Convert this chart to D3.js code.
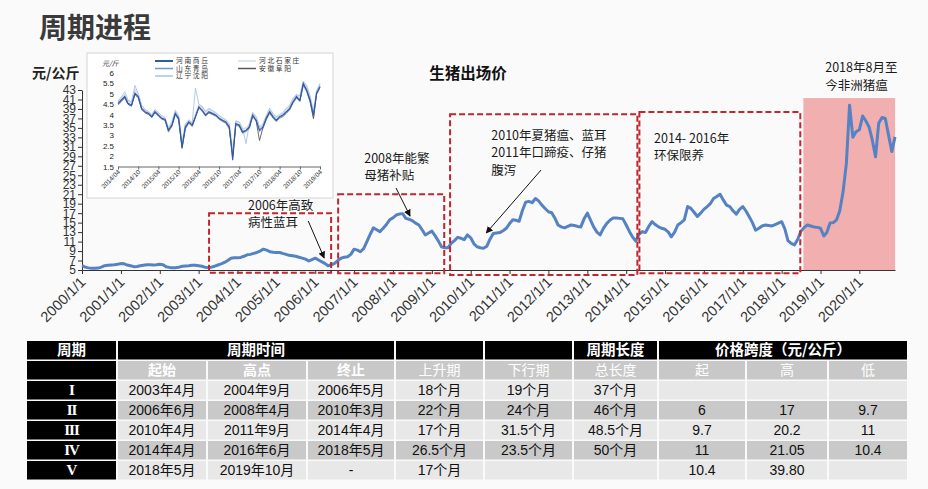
<!DOCTYPE html>
<html><head><meta charset="utf-8">
<script src="https://cdn.jsdelivr.net/npm/d3@7"></script>
<style>
html,body{margin:0;padding:0;background:#fafafa;}
svg{display:block;font-family:"Liberation Sans",Arial,"Noto Sans CJK SC",sans-serif;}
</style></head><body>
<svg id="c" width="928" height="489"></svg>
<script>
// ---------------- DATA ----------------
const pageTitle = "周期进程";
const chartTitle = "生猪出场价";
const yUnit = "元/公斤";
const years = d3.range(2000, 2021);
const xTickLabels = years.map(v => v + "/1/1");
const yTicks = d3.range(5, 44, 2);

// monthly hog price (元/公斤), 2000/01 .. 2020/12
const hogPrice = [
  5.9,5.6,5.45,5.35,5.35,5.4,5.6,5.9,6.0,6.05,6.1,6.2,
  6.35,6.3,6.05,5.9,5.7,5.75,5.9,6.0,6.1,6.1,6.05,6.1,
  6.2,6.1,5.7,5.55,5.5,5.5,5.6,5.8,5.85,5.9,6.0,6.0,
  5.9,5.8,5.6,5.5,5.6,5.8,6.05,6.3,6.6,7.0,7.5,7.6,
  7.6,7.65,7.9,8.2,8.3,8.5,8.7,9.0,9.4,9.2,8.85,8.75,
  8.7,8.7,8.5,8.3,8.1,8.0,7.9,7.7,7.5,7.3,6.9,7.2,
  7.5,7.1,6.75,6.4,5.9,6.1,6.4,7.0,7.5,7.7,7.8,8.3,
  9.4,9.2,8.85,9.5,11.0,12.5,13.9,13.5,13.1,13.8,14.6,15.6,
  16.0,16.6,16.8,16.9,15.9,15.7,15.4,14.9,14.5,13.5,12.4,12.8,
  13.2,12.2,11.2,9.9,9.7,9.7,10.6,11.2,11.9,11.7,11.4,12.4,
  11.8,10.5,9.9,9.7,9.6,10.0,11.5,12.7,12.8,12.9,13.3,13.8,
  14.8,15.6,15.5,15.3,17.5,19.3,19.5,19.2,20.1,19.6,18.7,18.0,
  17.3,17.1,16.0,14.5,14.1,13.9,14.2,14.5,14.4,14.2,14.1,15.8,
  17.0,15.5,14.1,13.0,12.4,13.8,14.8,15.5,16.0,16.0,15.9,15.8,
  14.5,13.1,12.0,11.1,12.5,13.1,12.9,14.2,15.2,14.6,14.1,13.8,
  13.6,13.0,12.0,13.0,14.5,15.0,15.6,18.4,18.0,17.2,16.3,17.0,
  17.8,18.4,19.0,20.1,20.5,21.0,19.8,18.7,18.4,17.5,16.8,17.8,
  18.4,17.4,16.3,15.0,13.4,13.8,14.3,14.5,14.4,14.3,14.6,14.9,
  15.2,13.6,11.2,10.6,10.3,11.5,13.2,14.0,14.5,14.3,14.1,14.0,
  13.8,12.2,12.9,14.9,15.0,15.6,17.5,21.5,27.5,39.8,33.0,34.2,
  34.6,37.5,36.5,35.2,32.5,28.9,36.0,37.2,37.0,33.5,30.0,33.1
];

// cycle boxes (decimal years, price top/bottom)
const boxStart = [2003.27, 2006.59, 2009.47, 2014.34];
const boxEnd   = [2006.41, 2009.32, 2014.29, 2018.48];
const boxTop   = [17.0, 21.0, 37.9, 38.35];
const boxBottom= [4.4, 4.3, 3.95, 4.3];
const feverStart = 2018.56, feverEnd = 2020.92, feverTop = 41.3;

// annotations
const annLines = [
  ["2006年高致","病性蓝耳"],
  ["2008年能繁","母猪补贴"],
  ["2010年夏猪瘟、蓝耳","2011年口蹄疫、仔猪","腹泻"],
  ["2014-  2016年","环保限养"],
  ["2018年8月至","今非洲猪瘟"]
];
const annX = [2004.27, 2007.26, 2010.53, 2014.72, 2019.12];
const annY = [17.77, 27.69, 32.55, 31.86, 46.76];
const arrowFromX = [2005.82, 2008.08, 2011.81];
const arrowFromY = [15.34, 22.31, 26.11];
const arrowToX   = [2006.23, 2008.44, 2010.40];
const arrowToY   = [7.53, 16.4, 12.81];

// inset: prices by city (元/斤), monthly 2014/04 .. 2019/04
const insetUnit = "元/斤";
const insetNames = ["河南商丘","河北石家庄","山东青岛","安徽阜阳","辽宁沈阳"];
const henan = [4.54,4.70,4.87,4.54,4.45,5.03,4.87,4.30,4.14,4.06,3.90,4.14,3.98,3.82,3.77,3.25,3.50,4.06,3.82,2.44,3.40,3.65,3.50,3.90,4.38,4.22,3.98,4.14,4.06,3.98,3.82,3.73,3.65,3.40,1.80,3.57,3.50,3.17,3.25,3.40,3.98,3.73,3.25,3.40,3.82,4.14,3.90,3.73,3.90,3.98,4.14,4.30,4.63,4.87,4.70,5.50,5.20,4.70,3.98,5.03,5.35];
const hebei = [4.60,4.80,4.95,4.65,4.55,5.20,4.95,4.40,4.20,4.10,3.95,4.20,4.05,3.90,3.80,3.35,3.60,4.15,3.90,2.70,3.50,3.70,3.60,4.00,4.45,4.35,4.10,4.25,4.15,4.05,3.90,3.80,3.70,3.50,2.20,3.65,3.60,3.30,3.35,3.50,4.05,3.85,3.35,3.50,3.90,4.25,4.00,3.85,3.95,4.05,4.25,4.40,4.75,4.95,4.85,5.55,5.35,4.85,4.10,5.10,5.45];
const shandong = [4.45,4.62,4.80,4.48,4.40,4.95,4.80,4.22,4.08,4.00,3.85,4.08,3.92,3.78,3.70,3.15,3.42,3.98,3.75,2.35,3.30,3.58,3.42,3.85,4.30,4.15,3.92,4.08,4.00,3.92,3.76,3.66,3.58,3.30,1.95,3.50,3.42,3.10,3.18,3.32,3.90,3.66,3.18,3.32,3.75,4.05,3.82,3.65,3.82,3.90,4.05,4.22,4.55,4.78,4.62,5.40,5.10,4.60,3.85,4.95,5.30];
const anhui = [4.50,4.65,4.82,4.50,4.42,4.98,4.82,4.26,4.10,4.02,3.88,4.10,3.95,3.80,3.74,3.22,3.46,4.02,3.78,2.40,3.36,3.62,3.46,3.88,4.34,4.18,3.95,4.10,4.02,3.95,3.80,3.70,3.62,3.36,2.00,3.54,3.46,3.14,3.22,3.36,3.95,3.70,2.75,3.36,3.78,4.10,3.86,3.70,3.86,3.95,4.10,4.26,4.60,4.82,4.66,5.45,5.15,4.66,3.80,5.00,5.32];
const liaoning = [4.65,4.85,5.10,4.70,4.60,5.40,5.00,4.45,4.25,4.15,4.00,4.25,4.10,3.95,3.85,3.30,3.65,4.20,3.95,2.60,3.55,3.75,3.60,5.27,4.50,4.40,4.15,4.30,4.20,4.10,3.95,3.85,3.75,3.55,2.10,3.70,3.65,3.35,2.60,3.55,4.10,3.90,3.40,3.55,3.95,4.30,4.05,3.90,4.00,4.10,4.30,4.45,4.80,4.95,4.90,5.60,5.40,4.90,4.15,5.15,5.50];
const insetYTicks = [1.5,2,2.5,3,3.5,4,4.5,5,5.5,6];
const insetXLabels = ["2014/04","2014/10","2015/04","2015/10","2016/04","2016/10","2017/04","2017/10","2018/04","2018/10","2019/04"];

// table
const headTop = [["周期",0,0],["周期时间",1,3],["",4,4],["",5,5],["周期长度",6,6],["价格跨度（元/公斤）",7,9]];
const headSub = ["","起始","高点","终止","上升期","下行期","总长度","起","高","低"];
const cycleNames = ["I","II","III","IV","V"];
const cycleStart = ["2003年4月","2006年6月","2010年4月","2014年4月","2018年5月"];
const cyclePeak  = ["2004年9月","2008年4月","2011年9月","2016年6月","2019年10月"];
const cycleEnd   = ["2006年5月","2010年3月","2014年4月","2018年5月","-"];
const upMonths   = ["18个月","22个月","17个月","26.5个月","17个月"];
const downMonths = ["19个月","24个月","31.5个月","23.5个月",""];
const totalMonths= ["37个月","46个月","48.5个月","50个月",""];
const priceStart = ["","6","9.7","11","10.4"];
const priceHigh  = ["","17","20.2","21.05","39.80"];
const priceLow   = ["","9.7","11","10.4",""];

// ---------------- DRAW ----------------
const svg = d3.select("#c");
const fy = f => new Date(2000, 0, 1 + Math.round((f - 2000) * 365.25));

svg.append("text").attr("x", 39).attr("y", 38)
  .attr("font-family", "'Noto Sans CJK SC'").attr("font-size", 28).attr("font-weight", "bold")
  .attr("fill", "#3a3a3a").text(pageTitle);

const x = d3.scaleTime().domain([new Date(2000,0,1), new Date(2020,11,1)]).range([82, 895]);
const y = d3.scaleLinear().domain([5, 43]).range([270, 90]);

// ASF shaded region
svg.append("rect")
  .attr("x", x(fy(feverStart))).attr("y", y(feverTop))
  .attr("width", x(fy(feverEnd)) - x(fy(feverStart))).attr("height", y(5) - y(feverTop))
  .attr("fill", "#f2afaf");

// axes
const yAxis = svg.append("g").attr("transform", "translate(82,0)")
  .call(d3.axisLeft(y).tickValues(yTicks).tickSize(4).tickSizeOuter(0).tickPadding(2));
yAxis.selectAll("text").attr("font-size", 12).attr("fill", "#333")
  .attr("font-family", "'Liberation Sans Narrow','Arial Narrow','Liberation Sans',sans-serif");
yAxis.selectAll("line,path").attr("stroke", "#333");

const xAxis = svg.append("g").attr("transform", "translate(0,270)")
  .call(d3.axisBottom(x).tickValues(years.map(v => new Date(v,0,1)))
    .tickFormat((d,i) => xTickLabels[i]).tickSize(4).tickSizeOuter(0));
xAxis.selectAll("line,path").attr("stroke", "#333");
xAxis.selectAll("text").attr("font-size", 14.5).attr("fill", "#333")
  .attr("text-anchor", "end").attr("dy", null).attr("y", null)
  .attr("transform", "translate(4,13) rotate(-45)");

// price line
const dates = hogPrice.map((v,i) => new Date(2000, i, 1));
svg.append("path").datum(hogPrice)
  .attr("d", d3.line().x((d,i) => x(dates[i])).y(d => y(d)).curve(d3.curveLinear))
  .attr("fill", "none").attr("stroke", "#5582c3").attr("stroke-width", 3).attr("stroke-linejoin", "round");

// cycle boxes
svg.append("g").selectAll("rect").data(boxStart).join("rect")
  .attr("x", (d,i) => x(fy(d))).attr("y", (d,i) => y(boxTop[i]))
  .attr("width", (d,i) => x(fy(boxEnd[i])) - x(fy(d)))
  .attr("height", (d,i) => y(boxBottom[i]) - y(boxTop[i]))
  .attr("fill", "none").attr("stroke", "#c0262c").attr("stroke-width", 2)
  .attr("stroke-dasharray", "6,3");

// arrows
const defs = svg.append("defs");
defs.append("marker").attr("id", "ah").attr("viewBox", "0 0 10 10")
  .attr("refX", 9).attr("refY", 5).attr("markerWidth", 7).attr("markerHeight", 7)
  .attr("markerUnits", "userSpaceOnUse").attr("orient", "auto")
  .append("path").attr("d", "M0,0 L10,5 L0,10 z").attr("fill", "#111");
svg.append("g").selectAll("line").data(arrowFromX).join("line")
  .attr("x1", d => x(fy(d))).attr("y1", (d,i) => y(arrowFromY[i]))
  .attr("x2", (d,i) => x(fy(arrowToX[i]))).attr("y2", (d,i) => y(arrowToY[i]))
  .attr("stroke", "#111").attr("stroke-width", 1).attr("marker-end", "url(#ah)");

// annotation text
const ann = svg.append("g").attr("font-family", "'Noto Sans CJK SC',sans-serif").attr("font-size", 12.5).attr("fill", "#1a1a1a");
annLines.forEach((lines, i) => {
  const t = ann.append("text").attr("x", x(fy(annX[i]))).attr("y", y(annY[i]));
  lines.forEach((s, j) => t.append("tspan").attr("x", x(fy(annX[i]))).attr("dy", j === 0 ? 0 : 17.5).text(s));
});

// titles
svg.append("text").attr("x", 468).attr("y", 79).attr("text-anchor", "middle")
  .attr("font-family", "'Noto Sans CJK SC',sans-serif").attr("font-size", 15.5).attr("font-weight", "bold")
  .attr("fill", "#111").text(chartTitle);
svg.append("text").attr("x", 32).attr("y", 78)
  .attr("font-family", "'Noto Sans CJK SC',sans-serif").attr("font-size", 14).attr("font-weight", "bold")
  .attr("fill", "#222").text(yUnit);

// ---------------- INSET ----------------
const ig = svg.append("g");
ig.append("rect").attr("x", 87).attr("y", 53).attr("width", 246).attr("height", 145)
  .attr("fill", "#fff").attr("stroke", "#d4d4d4").attr("stroke-width", 1);
const xi = d3.scaleTime().domain([new Date(2014,3,1), new Date(2019,3,1)]).range([118, 320]);
const yi = d3.scaleLinear().domain([1.5, 6]).range([166.5, 73]);
const idates = henan.map((v,i) => new Date(2014, 3 + i, 1));
const insetSeries = [hebei, liaoning, shandong, anhui, henan];
const insetColors = {"河北石家庄":"#d6deea","辽宁沈阳":"#a9c3e6","山东青岛":"#6f98d2","安徽阜阳":"#5a5a5a","河南商丘":"#2f5aa5"};
const insetSeriesNames = ["河北石家庄","辽宁沈阳","山东青岛","安徽阜阳","河南商丘"];
const iline = d3.line().x((d,i) => xi(idates[i])).y(d => yi(d));
insetSeries.forEach((s, k) => {
  ig.append("path").datum(s).attr("d", iline).attr("fill", "none")
    .attr("stroke", insetColors[insetSeriesNames[k]])
    .attr("stroke-width", insetSeriesNames[k] === "河南商丘" ? 1.1 : (insetSeriesNames[k] === "河北石家庄" ? 1.6 : 0.9));
});
const iyAxis = ig.append("g").attr("transform", "translate(118,0)")
  .call(d3.axisLeft(yi).tickValues(insetYTicks).tickSize(0).tickPadding(4).tickFormat(d => d));
iyAxis.select("path").remove();
iyAxis.selectAll("text").attr("font-size", 8).attr("fill", "#222");
const ixAxis = ig.append("g").attr("transform", "translate(0,166.5)")
  .call(d3.axisBottom(xi).tickValues(insetXLabels.map((s,i) => new Date(2014, 3 + 6*i, 1)))
    .tickFormat((d,i) => insetXLabels[i]).tickSize(3).tickSizeOuter(0));
ixAxis.selectAll("line,path").attr("stroke", "#666");
ixAxis.selectAll("text").attr("font-size", 6.5).attr("fill", "#333").attr("text-anchor", "end")
  .attr("dy", null).attr("y", null).attr("transform", "translate(2,6) rotate(-45)");
ig.append("text").attr("x", 102).attr("y", 66).attr("font-size", 7).attr("font-style", "italic")
  .attr("fill", "#333").attr("font-family", "'Noto Sans CJK SC',sans-serif").text(insetUnit);
// legend
const legX = [155, 238, 155, 238, 155];
const legY = [61, 61, 68.5, 68.5, 76];
insetNames.forEach((n, i) => {
  ig.append("line").attr("x1", legX[i]).attr("x2", legX[i] + 18).attr("y1", legY[i]).attr("y2", legY[i])
    .attr("stroke", insetColors[n]).attr("stroke-width", n === "河南商丘" ? 2 : 1.5);
  ig.append("text").attr("x", legX[i] + 21).attr("y", legY[i] + 2.4).attr("font-size", 6.8)
    .attr("letter-spacing", 1.6).attr("fill", "#333").attr("font-family", "'Noto Sans CJK SC',sans-serif").text(n);
});

// ---------------- TABLE ----------------
const colEdges = [26,117,207,307,395,484,573,658,746,828,908];
const rowTops = [341, 361, 381, 401, 421, 441, 461];
const rowH = 18.5;
const tg = svg.append("g").attr("font-family", "'Liberation Sans','Noto Sans CJK SC',sans-serif");
function cell(c0, c1, r, fill, text, tfill, opts = {}) {
  const x0 = colEdges[c0] + 1, x1 = colEdges[c1 + 1] - 1;
  tg.append("rect").attr("x", x0).attr("y", rowTops[r]).attr("width", x1 - x0).attr("height", rowH).attr("fill", fill);
  if (text !== "") {
    tg.append("text").attr("x", (x0 + x1) / 2).attr("y", rowTops[r] + rowH / 2 + 5)
      .attr("text-anchor", "middle").attr("font-size", opts.size || 14)
      .attr("font-weight", opts.bold ? "bold" : "normal")
      .attr("font-family", opts.family || null)
      .attr("letter-spacing", opts.ls || null)
      .attr("fill", tfill).text(text);
  }
}
headTop.forEach(h => cell(h[1], h[2], 0, "#000", h[0], "#fff", {bold: true, size: 14.5, family: "'Noto Sans CJK SC',sans-serif"}));
headSub.forEach((h, c) => cell(c, c, 1, c === 0 ? "#000" : "#c8c8c8", h, "#fff", {bold: c <= 3, size: 14, family: "'Noto Sans CJK SC',sans-serif"}));
const cols = [cycleStart, cyclePeak, cycleEnd, upMonths, downMonths, totalMonths, priceStart, priceHigh, priceLow];
cycleNames.forEach((nm, r) => {
  cell(0, 0, r + 2, "#000", nm, "#fff", {bold: true, size: 15, family: "'Liberation Serif',serif", ls: -1});
  const bg = r % 2 === 0 ? "#e8e8e8" : "#c9c9c9";
  cols.forEach((col, c) => cell(c + 1, c + 1, r + 2, bg, col[r], "#111", {size: 14}));
});
</script>
</body></html>
